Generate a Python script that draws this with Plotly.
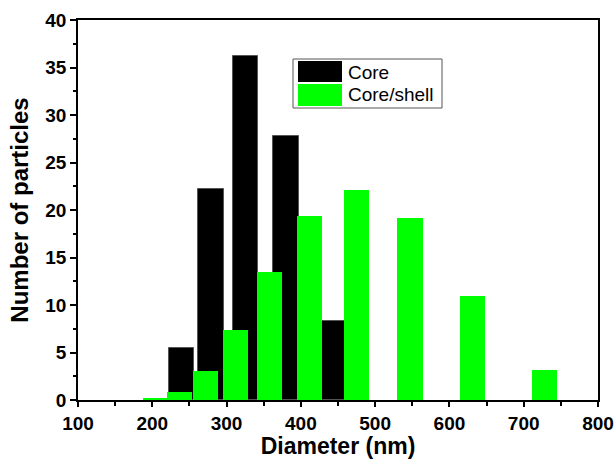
import plotly.graph_objects as go

# Data
core_diameter = [239, 279, 325, 380, 443]
core_count = [5.5, 22.2, 36.2, 27.8, 8.3]

shell_diameter = [205, 237, 272, 312, 358, 412, 475, 547, 631, 728]
shell_count = [0.15, 0.8, 3.05, 7.4, 13.5, 19.4, 22.1, 19.2, 10.95, 3.16]

series_names = ["Core", "Core/shell"]
x_ticks = [100, 200, 300, 400, 500, 600, 700, 800]
y_ticks = [0, 5, 10, 15, 20, 25, 30, 35, 40]

W, H = 615, 459
L, R, T, B = 78, 17, 20, 59
pw, ph = W - L - R, H - T - B

def px2x(px):
    return (px - L) / pw

def py2y(py):
    return (H - B - py) / ph

fig = go.Figure()
fig.add_trace(go.Bar(x=core_diameter, y=core_count, width=34, name=series_names[0],
                     marker=dict(color="#000000", line=dict(color="#555555", width=1)),
                     showlegend=False))
fig.add_trace(go.Bar(x=shell_diameter, y=shell_count, width=34, name=series_names[1],
                     marker=dict(color="#00FF00", line=dict(width=0)),
                     showlegend=False))

font_family = "Liberation Sans, Arial, sans-serif"

# Manual legend (large swatches like the original)
shapes = [
    dict(type="rect", xref="paper", yref="paper", x0=px2x(293), x1=px2x(442), y0=py2y(108), y1=py2y(59),
         line=dict(color="#555555", width=1), fillcolor="white", layer="above"),
    dict(type="rect", xref="paper", yref="paper", x0=px2x(298), x1=px2x(342), y0=py2y(82), y1=py2y(61),
         line=dict(width=0), fillcolor="#000000", layer="above"),
    dict(type="rect", xref="paper", yref="paper", x0=px2x(298), x1=px2x(342), y0=py2y(106), y1=py2y(84),
         line=dict(width=0), fillcolor="#00FF00", layer="above"),
]
annotations = [
    dict(xref="paper", yref="paper", x=px2x(346), y=py2y(72), text=series_names[0], showarrow=False,
         xanchor="left", yanchor="middle", font=dict(family=font_family, size=19, color="black")),
    dict(xref="paper", yref="paper", x=px2x(346), y=py2y(95), text=series_names[1], showarrow=False,
         xanchor="left", yanchor="middle", font=dict(family=font_family, size=19, color="black")),
]

fig.update_layout(
    width=W, height=H,
    margin=dict(l=L, r=R, t=T, b=B, pad=0),
    paper_bgcolor="white", plot_bgcolor="white",
    barmode="overlay", bargap=0,
    font=dict(family=font_family, color="black"),
    shapes=shapes, annotations=annotations,
)
fig.update_xaxes(
    range=[100, 800], tickvals=x_ticks, ticktext=[f"<b>{v}</b>" for v in x_ticks],
    ticks="outside", ticklen=5, tickwidth=1.5, tickcolor="black",
    showline=True, linecolor="black", linewidth=1.5, mirror=True, showgrid=False, zeroline=False,
    tickfont=dict(size=19, family=font_family),
    minor=dict(dtick=50, tick0=100, ticks="outside", ticklen=4, tickwidth=1.5, tickcolor="black", showgrid=False),
    title=dict(text="<b>Diameter (nm)</b>", font=dict(size=23, family=font_family), standoff=3),
    automargin=False,
)
fig.update_yaxes(
    range=[0, 40], tickvals=y_ticks, ticktext=[f"<b>{v}</b>" for v in y_ticks],
    ticks="outside", ticklen=6, tickwidth=1.5, tickcolor="black",
    showline=True, linecolor="black", linewidth=1.5, mirror=True, showgrid=False, zeroline=False,
    tickfont=dict(size=19, family=font_family),
    minor=dict(dtick=2.5, tick0=0, ticks="outside", ticklen=3.5, tickwidth=1.5, tickcolor="black", showgrid=False),
    title=dict(text="<b>Number of particles</b>", font=dict(size=24, family=font_family), standoff=10),
    automargin=False,
)

fig.write_html("out.html")
